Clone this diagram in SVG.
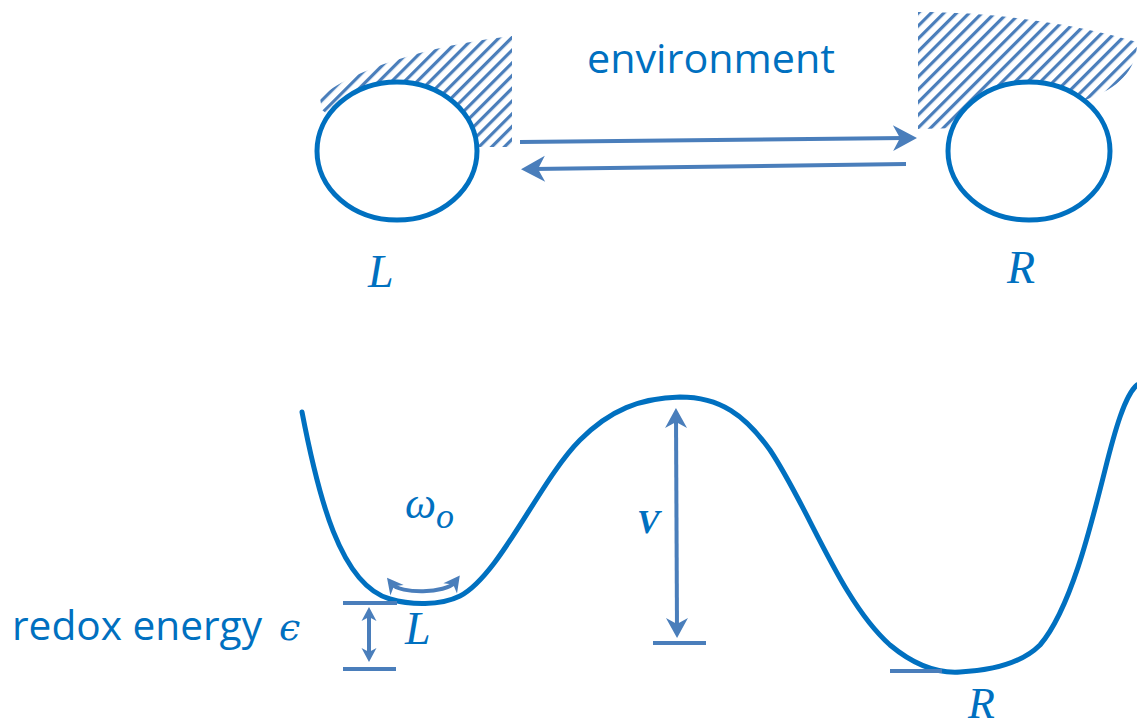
<svg xmlns="http://www.w3.org/2000/svg" width="1137" height="721" viewBox="0 0 1137 721">
<style>
.curve{fill:none;stroke:#0070C0;stroke-width:5;stroke-linecap:round}
.circ{fill:#fff;stroke:#0070C0;stroke-width:5}
.arr{fill:none;stroke:#4A7EBB;stroke-width:4}
.bar{stroke:#4A7EBB;stroke-width:4}
.sans{font-family:"Open Sans","Noto Sans",sans-serif;fill:#0070C0}
.math{font-family:"Liberation Serif","DejaVu Serif",serif;font-style:italic;fill:#0070C0}
</style>
<defs>
<pattern id="hatch" patternUnits="userSpaceOnUse" width="9" height="9" patternTransform="rotate(45)">
<rect x="0" y="0" width="3.2" height="9" fill="#4A7EBB"/>
</pattern>
<marker id="ahL" viewBox="-14 -14 28 28" markerWidth="28" markerHeight="28" markerUnits="userSpaceOnUse" refX="0" refY="0" orient="auto-start-reverse">
<path d="M-12,-13 L12,0 L-12,13 L-5,0 Z" fill="#4A7EBB"/>
</marker>
<marker id="ahM" viewBox="-12 -12 24 24" markerWidth="24" markerHeight="24" markerUnits="userSpaceOnUse" refX="0" refY="0" orient="auto-start-reverse">
<path d="M-10,-11 L10,0 L-10,11 L-4,0 Z" fill="#4A7EBB"/>
</marker>
<marker id="ahS" viewBox="-9 -9 18 18" markerWidth="18" markerHeight="18" markerUnits="userSpaceOnUse" refX="0" refY="0" orient="auto-start-reverse">
<path d="M-7,-7.5 L7,0 L-7,7.5 L-3,0 Z" fill="#4A7EBB"/>
</marker>
<marker id="ahO" viewBox="-10 -10 20 20" markerWidth="20" markerHeight="20" markerUnits="userSpaceOnUse" refX="0" refY="0" orient="auto-start-reverse">
<path d="M-8,-8.5 L8,0 L-8,8.5 L-3,0 Z" fill="#4A7EBB"/>
</marker>
</defs>

<g id="env-left">
<path d="M320,98 C350,70 430,45 512,36 L512,147 L478,147 L420,150 L335,120 L322,110 Z" fill="url(#hatch)"/>
</g>
<g id="env-right">
<path d="M918,12 C1000,12 1080,25 1137,42 L1137,46 C1135,70 1120,88 1085,100 L1029,120 L960,128 L918,129 Z" fill="url(#hatch)"/>
</g>
<g id="node-L">
<ellipse class="circ" cx="397" cy="151" rx="80" ry="69"/>
<text class="math" x="368" y="287" font-size="46">L</text>
</g>
<g id="node-R">
<ellipse class="circ" cx="1029" cy="151" rx="81" ry="69"/>
<text class="math" x="1007" y="283" font-size="46">R</text>
</g>
<g id="label-env">
<text class="sans" x="587" y="73" font-size="40" textLength="248" lengthAdjust="spacingAndGlyphs">environment</text>
</g>

<g id="connectors">
<path class="arr" d="M520,142 L905,138" marker-end="url(#ahL)"/>
<path class="arr" d="M906,164 L533,169" marker-end="url(#ahL)"/>
</g>

<g id="potential">
<path class="curve" d="M302,412 C318,495 340,585 390,599 C410,605 440,606 460,596 C500,575 540,480 580,440 C610,410 640,398 680,397 C720,397 745,415 770,450 C810,510 840,600 890,645 C920,670 945,673 960,672 C1000,670 1025,660 1040,645 C1070,610 1090,530 1105,470 C1115,430 1125,395 1137,385"/>
</g>

<g id="omega">
<path class="arr" d="M392,584 C400,594 446,594 455,582" marker-start="url(#ahO)" marker-end="url(#ahO)" stroke-width="3.5"/>
<text class="math" x="405" y="518" font-size="44">ω<tspan font-size="36" dy="10">o</tspan></text>
</g>

<g id="level-L">
<line class="bar" x1="343" y1="603" x2="397" y2="603"/>
<line class="bar" x1="343" y1="669" x2="396" y2="669"/>
<path class="arr" d="M369,614 L369,655" marker-start="url(#ahS)" marker-end="url(#ahS)" stroke-width="3"/>
<text class="math" x="405" y="644" font-size="46">L</text>
</g>

<g id="label-redox">
<text class="sans" x="12" y="640" font-size="40" textLength="250" lengthAdjust="spacingAndGlyphs">redox energy</text>
<text x="279" y="640" font-size="38" font-family="DejaVu Serif, serif" font-style="italic" fill="#0070C0">ϵ</text>
</g>

<g id="barrier">
<path class="arr" d="M676,418 L677,628" marker-start="url(#ahM)" marker-end="url(#ahM)"/>
<line class="bar" x1="653" y1="643" x2="706" y2="643"/>
<text class="math" x="637" y="533" font-size="34" font-weight="bold">V</text>
</g>

<g id="level-R">
<line class="bar" x1="890" y1="671" x2="942" y2="671"/>
<text class="math" x="968" y="718" font-size="44">R</text>
</g>
</svg>
